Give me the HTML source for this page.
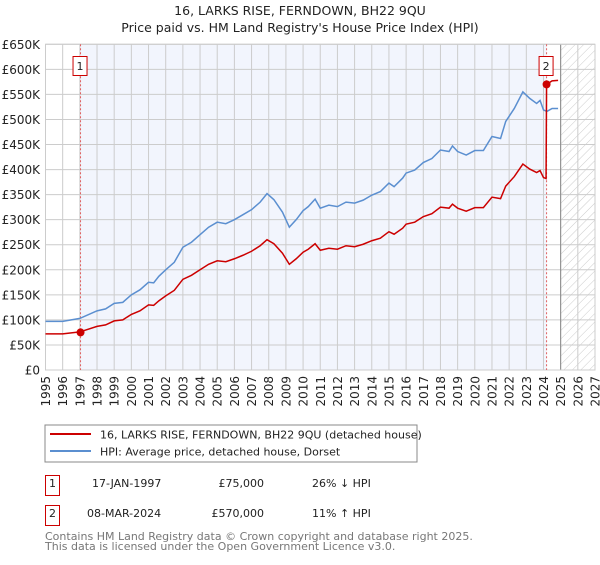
<!DOCTYPE html>
<html><head><meta charset="utf-8"><style>
body{margin:0;background:#fff;font-family:"Liberation Sans","DejaVu Sans",sans-serif;}
text{font-family:"DejaVu Sans","Liberation Sans",sans-serif;}
</style></head><body>
<svg id="c" width="600" height="560" xmlns="http://www.w3.org/2000/svg">
<defs><pattern id="h" width="6" height="6" patternUnits="userSpaceOnUse" patternTransform="rotate(45)"><line x1="0" y1="0" x2="0" y2="6" stroke="#ccc" stroke-width="1"/></pattern></defs>
<text x="300" y="15" text-anchor="middle" font-size="12.5" fill="#222">16, LARKS RISE, FERNDOWN, BH22 9QU</text>
<text x="300" y="32" text-anchor="middle" font-size="12.5" fill="#222">Price paid vs. HM Land Registry's House Price Index (HPI)</text>
<g id="plot"></g>
<rect x="45" y="425" width="372" height="37" fill="#fff" stroke="#888"/>
<line x1="50" y1="434" x2="91" y2="434" stroke="#cc0000" stroke-width="2"/>
<text x="100" y="438.5" font-size="11" fill="#222">16, LARKS RISE, FERNDOWN, BH22 9QU (detached house)</text>
<line x1="50" y1="451" x2="91" y2="451" stroke="#5b8fd0" stroke-width="2"/>
<text x="100" y="455.5" font-size="11" fill="#222">HPI: Average price, detached house, Dorset</text>
<g font-size="11" fill="#222">
<rect x="45.5" y="475.5" width="14" height="20" fill="none" stroke="#c00"/>
<text x="49" y="487">1</text>
<text x="92" y="487">17-JAN-1997</text>
<text x="264" y="487" text-anchor="end">£75,000</text>
<text x="312" y="487">26% ↓ HPI</text>
<rect x="45.5" y="505.5" width="14" height="20" fill="none" stroke="#c00"/>
<text x="49" y="517">2</text>
<text x="87" y="517">08-MAR-2024</text>
<text x="264" y="517" text-anchor="end">£570,000</text>
<text x="312" y="517">11% ↑ HPI</text>
</g>
<text x="45" y="540" font-size="11" fill="#777">Contains HM Land Registry data © Crown copyright and database right 2025.</text>
<text x="45" y="550" font-size="11" fill="#777">This data is licensed under the Open Government Licence v3.0.</text>
</svg>
<script>
const hpiYears=[1995,1996,1996.5,1997,1998,1998.5,1999,1999.5,2000,2000.5,2001,2001.3,2001.6,2002,2002.5,2003,2003.5,2004,2004.5,2005,2005.5,2006,2006.5,2007,2007.5,2007.9,2008.3,2008.8,2009.2,2009.6,2010,2010.3,2010.7,2011,2011.5,2012,2012.5,2013,2013.5,2014,2014.5,2015,2015.3,2015.8,2016,2016.5,2017,2017.5,2018,2018.5,2018.7,2019,2019.5,2020,2020.5,2021,2021.5,2021.8,2022.3,2022.8,2023.2,2023.6,2023.8,2024.0,2024.2,2024.5,2024.85];
const hpiValues=[97,97,100,103,118,122,133,135,150,160,175,174,187,200,215,245,255,270,285,295,292,300,310,320,335,352,340,315,285,300,318,326,341,323,329,326,335,333,339,349,356,373,366,383,393,399,414,422,439,436,447,436,429,438,438,466,462,496,522,555,542,532,538,519,516,522,522];
const priceYears=[1995,1996,1996.5,1997,1998,1998.5,1999,1999.5,2000,2000.5,2001,2001.3,2001.6,2002,2002.5,2003,2003.5,2004,2004.5,2005,2005.5,2006,2006.5,2007,2007.5,2007.9,2008.3,2008.8,2009.2,2009.6,2010,2010.3,2010.7,2011,2011.5,2012,2012.5,2013,2013.5,2014,2014.5,2015,2015.3,2015.8,2016,2016.5,2017,2017.5,2018,2018.5,2018.7,2019,2019.5,2020,2020.5,2021,2021.5,2021.8,2022.3,2022.8,2023.2,2023.6,2023.8,2024.0,2024.15,2024.18,2024.5,2024.85];
const priceValues=[72,72,74,76,87,90,98,100,111,118,130,129,138,148,159,181,189,200,211,218,216,222,229,237,248,260,252,233,211,222,235,241,252,239,243,241,248,246,251,258,263,276,271,283,291,295,306,312,325,323,331,323,317,324,324,345,342,367,386,411,401,394,398,384,382,570,577,578];
const saleYears=[1997.04,2024.18];
const saleValues=[75,570];
const saleLabels=["1","2"];
const yTicks=[0,50,100,150,200,250,300,350,400,450,500,550,600,650];
const xTicks=[1995,1996,1997,1998,1999,2000,2001,2002,2003,2004,2005,2006,2007,2008,2009,2010,2011,2012,2013,2014,2015,2016,2017,2018,2019,2020,2021,2022,2023,2024,2025,2026,2027];
const X0=45.5,X1=595,Y0=370,Y1=44.3;
const x=v=>X0+(v-1995)/(2027-1995)*(X1-X0);
const y=v=>Y0-(v/650)*(Y0-Y1);
const NS="http://www.w3.org/2000/svg";
const g=document.getElementById('plot');
function mk(t,a){const e=document.createElementNS(NS,t);for(const k in a)e.setAttribute(k,a[k]);g.appendChild(e);return e;}
let e;
e=mk('rect',{x:X0,y:Y1,width:X1-X0,height:Y0-Y1,fill:'#fff'});


e=mk('rect',{x:x(saleYears[0]),y:Y1,width:x(saleYears[1])-x(saleYears[0]),height:Y0-Y1,fill:'#f2f5fd'});


e=mk('rect',{x:x(2025),y:Y1,width:X1-x(2025),height:Y0-Y1,fill:'url(#h)'});


yTicks.forEach(v=>{
 e=mk('line',{x1:X0,x2:X1,y1:y(v),y2:y(v),stroke:'#ccc','stroke-width':1});
 
 
 e=mk('text',{x:40,y:y(v)+4.5,'text-anchor':'end','font-size':12,fill:'#222'});
 e.textContent=v===0?'£0':'£'+v+'K';
 
 
});
xTicks.forEach(v=>{
 e=mk('line',{x1:x(v),x2:x(v),y1:Y1,y2:Y0,stroke:'#ccc','stroke-width':1});
 
 
 e=mk('text',{x:0,y:0,'text-anchor':'end','font-size':12,fill:'#222',transform:`translate(${x(v)+4.5},376) rotate(-90)`});
 e.textContent=v;
 
 
});
e=mk('line',{x1:x(2025),x2:x(2025),y1:Y1,y2:Y0,stroke:'#888','stroke-width':1});


e=mk('rect',{x:X0,y:Y1,width:X1-X0,height:Y0-Y1,fill:'none',stroke:'#ccc'});


saleYears.forEach((s,i)=>{
 e=mk('line',{x1:x(s),x2:x(s),y1:Y1,y2:Y0,stroke:'#e06060','stroke-width':1,'stroke-dasharray':'2,2'});
 
 
});
e=mk('polyline',{points:hpiYears.map((t,i)=>x(t)+','+y(hpiValues[i])).join(' '),fill:'none',stroke:'#5b8fd0','stroke-width':1.5});


e=mk('polyline',{points:priceYears.map((t,i)=>x(t)+','+y(priceValues[i])).join(' '),fill:'none',stroke:'#cc0000','stroke-width':1.5});


saleYears.forEach((s,i)=>{
 e=mk('circle',{cx:x(s),cy:y(saleValues[i]),r:4,fill:'#cc0000'});
 
 
 e=mk('rect',{x:x(s)-7.5,y:56.5,width:14,height:19,fill:'#fff',stroke:'#c00'});
 
 
 e=mk('text',{x:x(s)-0.5,y:70,'text-anchor':'middle','font-size':11,fill:'#222'});
 e.textContent=saleLabels[i];
 
 
});
</script>
</body></html>
